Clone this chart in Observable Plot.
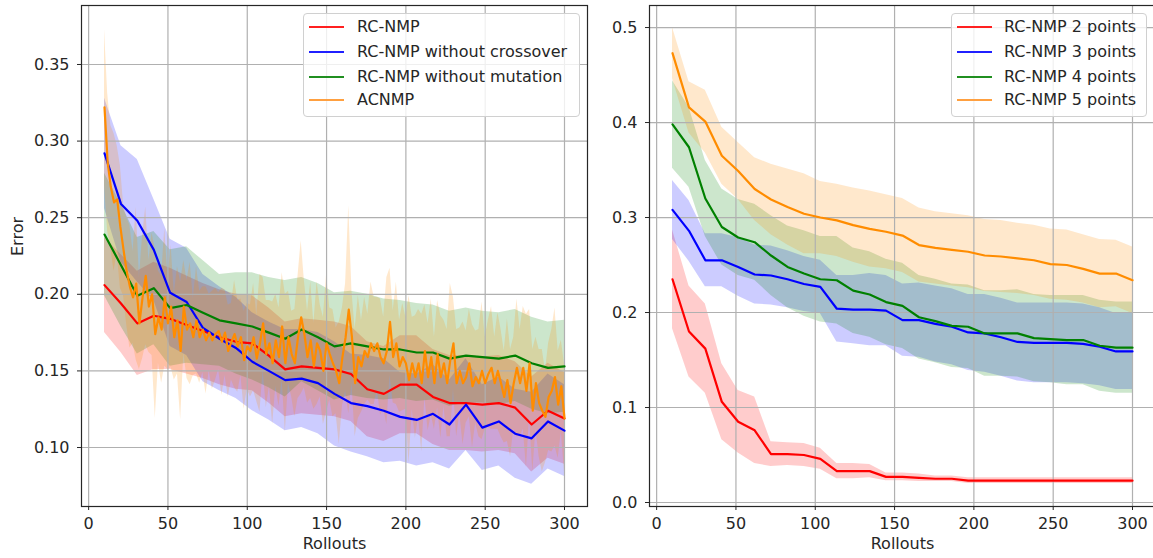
<!DOCTYPE html>
<html>
<head>
<meta charset="utf-8">
<script src="https://cdn.jsdelivr.net/npm/d3@7"></script>
<script src="https://cdn.jsdelivr.net/npm/@observablehq/plot@0.6"></script>
<style>
  html, body { margin: 0; padding: 0; background: #fff; }
  #wrap { position: relative; width: 1153px; height: 558px; overflow: hidden; font-family: "DejaVu Sans", sans-serif; }
  #wrap svg { position: absolute; top: 0; }
  .legend { position: absolute; background: rgba(255,255,255,0.8); border: 1px solid #d0d0d0; border-radius: 4px; box-sizing: border-box; }
  .legend .row { position: absolute; left: 0; height: 20px; font-size: 16px; color: #262626; white-space: nowrap; }
  .legend .handle { position: absolute; top: 9px; height: 2.4px; }
  .legend .lbl { position: absolute; top: 0; line-height: 20px; }
</style>
</head>
<body>
<div id="wrap"></div>
<script>
// ---------- shared ----------
const rollouts = [10, 20.4, 30.7, 41.1, 51.4, 61.8, 72.1, 82.5, 92.9, 103.2, 113.6, 123.9, 134.3, 144.6, 155,
                  165.4, 175.7, 186.1, 196.4, 206.8, 217.1, 227.5, 237.9, 248.2, 258.6, 268.9, 279.3, 289.6, 300];
const xTicks = [0, 50, 100, 150, 200, 250, 300];

// ---------- left panel: ablation ----------
const leftNames = ["RC-NMP", "RC-NMP without crossover", "RC-NMP without mutation", "ACNMP"];
const leftYTicks = [0.10, 0.15, 0.20, 0.25, 0.30, 0.35];

const rcnmpMean = [0.206, 0.194, 0.181, 0.186, 0.184, 0.180, 0.176, 0.172, 0.169, 0.168, 0.160, 0.151, 0.153, 0.152, 0.151,
                   0.148, 0.138, 0.135, 0.141, 0.141, 0.133, 0.129, 0.129, 0.128, 0.129, 0.126, 0.115, 0.124, 0.119];
const rcnmpStd  = [0.031, 0.032, 0.034, 0.035, 0.033, 0.032, 0.031, 0.031, 0.031, 0.031, 0.031, 0.031, 0.031, 0.031, 0.031,
                   0.031, 0.031, 0.031, 0.032, 0.032, 0.031, 0.031, 0.031, 0.031, 0.031, 0.030, 0.031, 0.031, 0.030];

const noCrossMean = [0.292, 0.259, 0.248, 0.229, 0.201, 0.195, 0.178, 0.171, 0.165, 0.156, 0.150, 0.144, 0.145, 0.142, 0.135,
                     0.129, 0.127, 0.124, 0.120, 0.118, 0.122, 0.115, 0.128, 0.113, 0.117, 0.109, 0.106, 0.117, 0.111];
const noCrossStd  = [0.036, 0.038, 0.040, 0.033, 0.035, 0.035, 0.035, 0.034, 0.033, 0.032, 0.032, 0.033, 0.032, 0.033, 0.034,
                     0.032, 0.033, 0.034, 0.029, 0.030, 0.032, 0.029, 0.030, 0.028, 0.029, 0.029, 0.030, 0.031, 0.030];

const noMutMean = [0.239, 0.219, 0.199, 0.204, 0.191, 0.193, 0.188, 0.183, 0.181, 0.179, 0.175, 0.171, 0.177, 0.172, 0.166,
                   0.168, 0.166, 0.164, 0.164, 0.162, 0.162, 0.158, 0.160, 0.159, 0.158, 0.160, 0.155, 0.152, 0.153];
const noMutStd  = [0.040, 0.040, 0.038, 0.037, 0.038, 0.038, 0.034, 0.030, 0.033, 0.035, 0.036, 0.038, 0.034, 0.035, 0.035,
                   0.034, 0.034, 0.033, 0.032, 0.032, 0.031, 0.031, 0.031, 0.030, 0.030, 0.030, 0.030, 0.030, 0.030];

const acnmpRollouts = d3.range(10, 301, 2);
const acnmpMean = [
  0.322,0.286,0.270,0.260,0.262,0.244,0.229,0.215,0.205,0.198,
  0.207,0.181,0.198,0.212,0.192,0.200,0.174,0.185,0.177,0.198,
  0.181,0.192,0.172,0.183,0.163,0.192,0.177,0.181,0.172,0.183,
  0.172,0.177,0.170,0.175,0.170,0.174,0.176,0.169,0.175,0.163,
  0.169,0.174,0.166,0.172,0.157,0.166,0.163,0.172,0.158,0.168,
  0.181,0.161,0.168,0.155,0.170,0.159,0.179,0.155,0.172,0.161,
  0.155,0.172,0.185,0.174,0.159,0.170,0.153,0.168,0.163,0.150,
  0.168,0.161,0.155,0.150,0.142,0.159,0.172,0.190,0.172,0.142,
  0.159,0.153,0.163,0.159,0.168,0.163,0.168,0.159,0.155,0.163,
  0.182,0.159,0.168,0.153,0.159,0.155,0.144,0.155,0.146,0.155,
  0.142,0.163,0.146,0.159,0.142,0.161,0.146,0.155,0.142,0.157,
  0.168,0.142,0.150,0.142,0.146,0.155,0.140,0.146,0.142,0.150,
  0.142,0.148,0.152,0.142,0.150,0.142,0.133,0.144,0.129,0.142,
  0.152,0.142,0.152,0.137,0.155,0.124,0.142,0.129,0.124,0.120,
  0.133,0.137,0.146,0.128,0.140,0.119];
const acnmpStd = [
  0.051,0.045,0.040,0.045,0.035,0.040,0.030,0.035,0.040,0.030,
  0.050,0.030,0.040,0.045,0.030,0.040,0.055,0.030,0.035,0.045,
  0.030,0.040,0.028,0.035,0.045,0.030,0.032,0.040,0.025,0.035,
  0.030,0.028,0.035,0.025,0.032,0.030,0.025,0.035,0.028,0.030,
  0.025,0.035,0.030,0.025,0.032,0.028,0.030,0.035,0.028,0.045,
  0.030,0.035,0.028,0.040,0.030,0.032,0.035,0.045,0.030,0.028,
  0.035,0.040,0.050,0.035,0.030,0.038,0.028,0.040,0.030,0.035,
  0.045,0.030,0.035,0.028,0.040,0.032,0.035,0.068,0.030,0.035,
  0.040,0.030,0.035,0.028,0.040,0.035,0.030,0.038,0.030,0.048,
  0.035,0.030,0.040,0.030,0.035,0.030,0.055,0.030,0.040,0.035,
  0.045,0.030,0.035,0.038,0.030,0.035,0.040,0.028,0.035,0.050,
  0.030,0.035,0.028,0.040,0.030,0.035,0.040,0.030,0.035,0.045,
  0.030,0.035,0.040,0.030,0.038,0.035,0.030,0.040,0.035,0.030,
  0.045,0.035,0.040,0.050,0.035,0.040,0.030,0.035,0.040,0.030,
  0.035,0.040,0.045,0.035,0.030,0.035];

// ---------- right panel: number of points ----------
const rightNames = ["RC-NMP 2 points", "RC-NMP 3 points", "RC-NMP 4 points", "RC-NMP 5 points"];
const rightYTicks = [0.0, 0.1, 0.2, 0.3, 0.4, 0.5];

const pts2Mean = [0.235, 0.180, 0.162, 0.106, 0.085, 0.076, 0.051, 0.051, 0.050, 0.046, 0.033, 0.033, 0.033, 0.027, 0.027,
                  0.026, 0.025, 0.025, 0.023, 0.023, 0.023, 0.023, 0.023, 0.023, 0.023, 0.023, 0.023, 0.023, 0.023];
const pts2Std  = [0.052, 0.048, 0.047, 0.040, 0.033, 0.035, 0.013, 0.012, 0.012, 0.011, 0.008, 0.008, 0.007, 0.004, 0.004,
                  0.004, 0.003, 0.003, 0.003, 0.003, 0.003, 0.003, 0.003, 0.003, 0.003, 0.003, 0.003, 0.003, 0.003];

const pts3Mean = [0.308, 0.286, 0.255, 0.255, 0.248, 0.240, 0.239, 0.235, 0.230, 0.227, 0.204, 0.203, 0.203, 0.202, 0.192,
                  0.192, 0.188, 0.185, 0.179, 0.178, 0.174, 0.169, 0.168, 0.168, 0.168, 0.167, 0.164, 0.159, 0.159];
const pts3Std  = [0.031, 0.032, 0.028, 0.028, 0.031, 0.031, 0.031, 0.030, 0.029, 0.028, 0.035, 0.036, 0.038, 0.037, 0.038,
                  0.039, 0.040, 0.040, 0.040, 0.041, 0.041, 0.041, 0.042, 0.042, 0.042, 0.042, 0.041, 0.040, 0.040];

const pts4Mean = [0.398, 0.374, 0.320, 0.290, 0.279, 0.274, 0.260, 0.248, 0.241, 0.235, 0.234, 0.223, 0.219, 0.211, 0.207,
                  0.195, 0.191, 0.186, 0.185, 0.178, 0.178, 0.178, 0.173, 0.172, 0.171, 0.171, 0.165, 0.163, 0.163];
const pts4Std  = [0.046, 0.042, 0.040, 0.040, 0.040, 0.040, 0.042, 0.043, 0.045, 0.045, 0.046, 0.045, 0.045, 0.045, 0.045,
                  0.044, 0.044, 0.044, 0.044, 0.045, 0.045, 0.046, 0.046, 0.046, 0.047, 0.047, 0.048, 0.048, 0.048];

const pts5Mean = [0.473, 0.416, 0.401, 0.365, 0.349, 0.330, 0.319, 0.311, 0.304, 0.300, 0.297, 0.292, 0.288, 0.285, 0.281,
                  0.271, 0.268, 0.266, 0.264, 0.260, 0.259, 0.257, 0.255, 0.251, 0.250, 0.246, 0.241, 0.241, 0.234];
const pts5Std  = [0.027, 0.027, 0.033, 0.030, 0.030, 0.033, 0.037, 0.040, 0.042, 0.038, 0.038, 0.039, 0.040, 0.039, 0.039,
                  0.039, 0.038, 0.038, 0.038, 0.038, 0.038, 0.037, 0.037, 0.037, 0.037, 0.036, 0.036, 0.035, 0.035];

const colors = ["#ff0000", "#0000ff", "#008000", "#ff8c00"];
const legendColors = ["#ff2020", "#2020ff", "#208f20", "#ffa040"];

// ---------- helpers ----------
function rows(xs, mean, sd) {
  return xs.map((x, i) => ({x, y: mean[i], lo: mean[i] - sd[i], hi: mean[i] + sd[i]}));
}

function panel({width, marginLeft, marginRight, yDomain, yTicks, yFormat, series, yLabel}) {
  const marks = [];
  series.forEach((s) => marks.push(Plot.areaY(s.data, {x: "x", y1: "lo", y2: "hi", fill: s.color, fillOpacity: 0.2, curve: "linear", clip: true})));
  marks.push(Plot.gridX(xTicks, {stroke: "#b0b0b0", strokeOpacity: 1, strokeWidth: 1.2}));
  marks.push(Plot.gridY(yTicks, {stroke: "#b0b0b0", strokeOpacity: 1, strokeWidth: 1.2}));
  series.forEach((s) => marks.push(Plot.line(s.data, {x: "x", y: "y", stroke: s.color, strokeWidth: 2.2, curve: "linear", clip: true})));
  marks.push(Plot.frame({stroke: "#262626", strokeWidth: 1.2}));
  marks.push(Plot.axisX(xTicks, {tickSize: 4, tickPadding: 7, label: null, stroke: "#262626", fill: "#262626"}));
  marks.push(Plot.axisY(yTicks, {tickSize: 4, tickPadding: 8, label: null, tickFormat: d3.format(yFormat), stroke: "#262626", fill: "#262626"}));
  marks.push(Plot.text(["Rollouts"], {frameAnchor: "bottom", dy: 42, fill: "#262626", fontSize: 16}));
  if (yLabel) marks.push(Plot.text([yLabel], {frameAnchor: "left", dx: -64, rotate: -90, fill: "#262626", fontSize: 16}));
  return Plot.plot({
    width, height: 558,
    marginLeft, marginRight, marginTop: 5, marginBottom: 52,
    style: {fontFamily: "DejaVu Sans", fontSize: "16px", color: "#262626", background: "transparent", overflow: "visible"},
    x: {domain: [-4.5, 314.5]},
    y: {domain: yDomain},
    marks
  });
}

function legend(container, names, {left, top, width, height, handleLeft, textLeft}) {
  const box = document.createElement("div");
  box.className = "legend";
  Object.assign(box.style, {left: left + "px", top: top + "px", width: width + "px", height: height + "px"});
  const rowsY = [27, 52, 77, 100];
  names.forEach((n, i) => {
    const r = document.createElement("div");
    r.className = "row";
    r.style.top = (rowsY[i] - 10 - top - 1) + "px";
    const h = document.createElement("div");
    h.className = "handle";
    Object.assign(h.style, {left: (handleLeft - left) + "px", width: "35px", background: legendColors[i]});
    const t = document.createElement("div");
    t.className = "lbl";
    t.style.left = (textLeft - left) + "px";
    t.textContent = n;
    r.appendChild(h); r.appendChild(t);
    box.appendChild(r);
  });
  container.appendChild(box);
}

// ---------- build ----------
const wrap = document.getElementById("wrap");

const leftSeries = [
  {color: colors[0], data: rows(rollouts, rcnmpMean, rcnmpStd)},
  {color: colors[1], data: rows(rollouts, noCrossMean, noCrossStd)},
  {color: colors[2], data: rows(rollouts, noMutMean, noMutStd)},
  {color: colors[3], data: rows(acnmpRollouts, acnmpMean, acnmpStd)}
];
const rightSeries = [
  {color: colors[0], data: rows(rollouts, pts2Mean, pts2Std)},
  {color: colors[1], data: rows(rollouts, pts3Mean, pts3Std)},
  {color: colors[2], data: rows(rollouts, pts4Mean, pts4Std)},
  {color: colors[3], data: rows(rollouts, pts5Mean, pts5Std)}
];

const leftPlot = panel({width: 590, marginLeft: 81, marginRight: 3, yDomain: [0.0615, 0.3885], yTicks: leftYTicks, yFormat: ".2f", series: leftSeries, yLabel: "Error"});
leftPlot.style.left = "0px";
wrap.appendChild(leftPlot);

const rightPlot = panel({width: 565, marginLeft: 59, marginRight: 0, yDomain: [-0.0042, 0.5232], yTicks: rightYTicks, yFormat: ".1f", series: rightSeries, yLabel: null});
rightPlot.style.left = "590px";
wrap.appendChild(rightPlot);

legend(wrap, leftNames, {left: 303, top: 13, width: 277, height: 104, handleLeft: 308, textLeft: 356});
legend(wrap, rightNames, {left: 951, top: 13, width: 196, height: 104, handleLeft: 956, textLeft: 1003});
</script>
</body>
</html>
